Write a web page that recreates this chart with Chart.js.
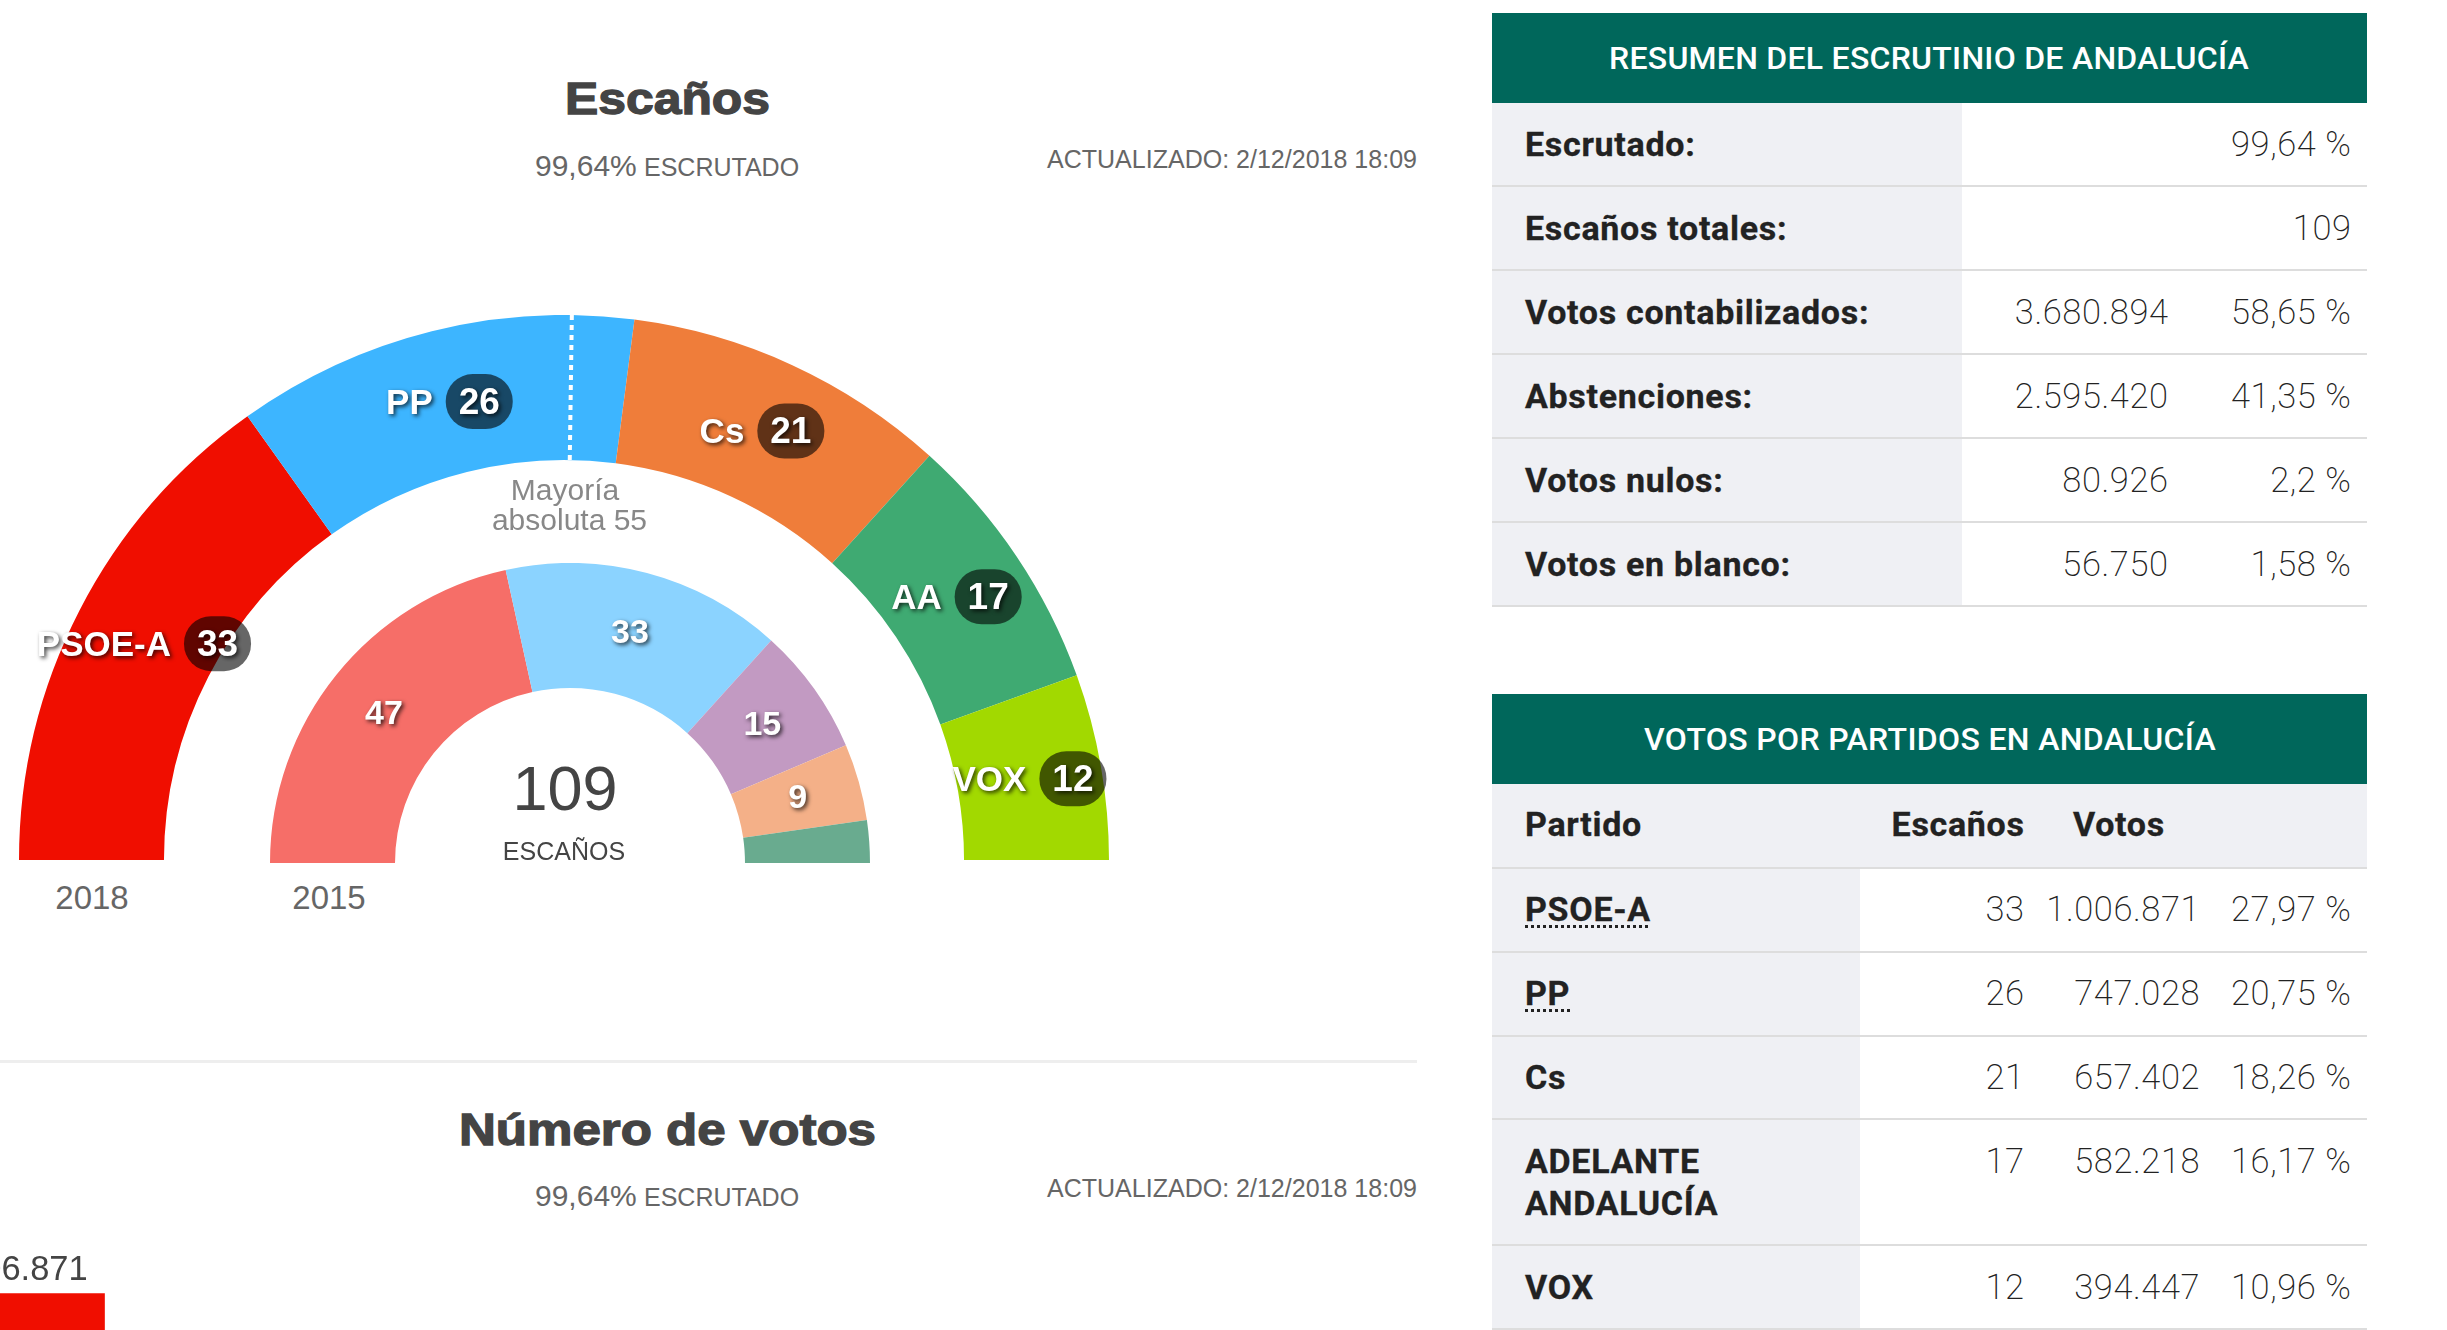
<!DOCTYPE html>
<html lang="es"><head><meta charset="utf-8">
<style>
html,body{margin:0;padding:0;background:#fff;width:2447px;height:1330px;overflow:hidden}
canvas{position:absolute;display:block}
.t{position:absolute;white-space:nowrap;line-height:1;margin:0}
.b{position:absolute}
</style>
<script src="https://cdn.jsdelivr.net/npm/chart.js@4"></script>
</head><body>
<canvas id="c2018" width="1090" height="545" style="left:19px;top:315px"></canvas>
<canvas id="c2015" width="600" height="300" style="left:270px;top:563px"></canvas>
<canvas id="cVotes" width="1000" height="350" style="left:-87px;top:1250px"></canvas>
<script>
const partyShort = ['PSOE-A','PP','Cs','AA','VOX'];
const seats2018 = [33,26,21,17,12];
const seats2015 = [47,33,15,9,5];
const colors2018 = ['#F00E00','#3DB5FF','#EF7D3A','#3FAA72','#A2D900'];
const colors2015 = ['#F66E68','#8BD3FF','#C29AC2','#F4B088','#69AB8F'];
const majority = 55;
const votes = [1006871,747028,657402,582218,394447];
const voteLabels = ['1.006.871','747.028','657.402','582.218','394.447'];
const summaryNames = ['Escrutado:','Escaños totales:','Votos contabilizados:','Abstenciones:','Votos nulos:','Votos en blanco:'];
const summaryCounts = ['','','3.680.894','2.595.420','80.926','56.750'];
const summaryPcts = ['99,64 %','109','58,65 %','41,35 %','2,2 %','1,58 %'];
const partyNames = ['PSOE-A','PP','Cs','ADELANTE|ANDALUCÍA','VOX'];
const partySeats = ['33','26','21','17','12'];
const partyVotes = ['1.006.871','747.028','657.402','582.218','394.447'];
const partyPcts = ['27,97 %','20,75 %','18,26 %','16,17 %','10,96 %'];

Chart.defaults.animation = false;
const SANS = '"Liberation Sans",Arial,sans-serif';

function shadowOn(ctx){ctx.shadowColor='rgba(0,0,0,.75)';ctx.shadowBlur=4;ctx.shadowOffsetX=2;ctx.shadowOffsetY=2;}

const seatLabels = {
  id:'seatLabels',
  afterDatasetsDraw(chart,args,opts){
    const ctx = chart.ctx, meta = chart.getDatasetMeta(0);
    meta.data.forEach((arc,i)=>{
      const p = arc.getCenterPoint();
      const val = String(chart.data.datasets[0].data[i]);
      ctx.save();
      if(opts.withNames){
        const gap=13, bw=67, bh=55, fs=35, fn=37;
        ctx.font='bold '+fs+'px '+SANS;
        const name=chart.data.labels[i], tw=ctx.measureText(name).width;
        const left=p.x-(tw+gap+bw)/2, bx=left+tw+gap;
        ctx.fillStyle='rgba(0,0,0,.6)';
        ctx.beginPath();ctx.roundRect(bx,p.y-bh/2,bw,bh,27);ctx.fill();
        shadowOn(ctx);
        ctx.fillStyle='#fff';ctx.textAlign='left';ctx.textBaseline='alphabetic';
        ctx.fillText(name,left,p.y+12.5);
        ctx.font='bold '+fn+'px '+SANS;ctx.textAlign='center';
        ctx.fillText(val,bx+bw/2,p.y+12.5);
      } else if(+val>=opts.minValue){
        ctx.font='bold 34px '+SANS;
        shadowOn(ctx);
        ctx.fillStyle='#fff';ctx.textAlign='center';ctx.textBaseline='alphabetic';
        ctx.fillText(val,p.x-1,p.y+9.5);
      }
      ctx.restore();
    });
  }
};
const majorityLine = {
  id:'majorityLine',
  afterDatasetsDraw(chart){
    const a = chart.getDatasetMeta(0).data[0], ctx=chart.ctx;
    const total = chart.data.datasets[0].data.reduce((s,v)=>s+v,0);
    const ang = -Math.PI + Math.PI*majority/total;
    ctx.save();
    ctx.strokeStyle='#fff';ctx.lineWidth=4;ctx.setLineDash([5,5]);
    ctx.beginPath();
    ctx.moveTo(a.x+a.outerRadius*Math.cos(ang),a.y+a.outerRadius*Math.sin(ang));
    ctx.lineTo(a.x+a.innerRadius*Math.cos(ang),a.y+a.innerRadius*Math.sin(ang));
    ctx.stroke();ctx.restore();
  }
};
function hemicycle(id,data,colors,cutout,labelOpts,extra){
  return new Chart(document.getElementById(id),{
    type:'doughnut',
    data:{labels:partyShort,datasets:[{data,backgroundColor:colors,borderWidth:0,hoverOffset:0}]},
    options:{responsive:false,rotation:-90,circumference:180,cutout,
      layout:{padding:0},
      plugins:{legend:{display:false},tooltip:{enabled:false},seatLabels:labelOpts}},
    plugins:[seatLabels].concat(extra||[])
  });
}
hemicycle('c2018',seats2018,colors2018,'73.4%',{withNames:true},[majorityLine]);
hemicycle('c2015',seats2015,colors2015,'58.33%',{withNames:false,minValue:9});

const voteValueLabels = {
  id:'voteValueLabels',
  afterDatasetsDraw(chart){
    const ctx=chart.ctx;
    chart.getDatasetMeta(0).data.forEach((bar,i)=>{
      ctx.save();ctx.font='34.5px '+SANS;ctx.fillStyle='#444';ctx.textAlign='center';
      ctx.fillText(voteLabels[i],bar.x-2,bar.y-14);ctx.restore();
    });
  }
};
new Chart(document.getElementById('cVotes'),{
  type:'bar',
  data:{labels:partyShort,datasets:[{data:votes,backgroundColor:colors2018,borderWidth:0,barThickness:183}]},
  options:{responsive:false,layout:{padding:0},
    scales:{x:{display:false},y:{display:false,min:0,max:1150000}},
    plugins:{legend:{display:false},tooltip:{enabled:false}}},
  plugins:[voteValueLabels]
});

/* page text: placed by baseline */
function put(text,x,base,o){
  o=o||{};
  const d=document.createElement('div');d.className='t';
  d.textContent=text;
  d.style.font=(o.weight||400)+' '+o.size+'px '+(o.family||SANS);
  d.style.color=o.color||'#444';
  if(o.ls!=null)d.style.letterSpacing=o.ls+'px';
  if(o.stroke)d.style.webkitTextStroke=o.stroke+'px '+(o.color||'#444');
  if(o.deco)d.style.cssText+=';text-decoration:underline dotted '+o.deco+';text-decoration-thickness:3px;text-underline-offset:4px';
  const s=document.createElement('span');s.style.cssText='display:inline-block;width:0;height:0';d.appendChild(s);
  d.style.left='0';d.style.top='0';document.body.appendChild(d);
  if(o.w){const w0=d.getBoundingClientRect().width;d.style.letterSpacing=((o.w-w0)/text.length)+'px';}
  let r=d.getBoundingClientRect();
  const off=s.getBoundingClientRect().bottom-r.top;
  let width=r.width;
  if(o.sw){d.style.transformOrigin='left center';d.style.transform='scaleX('+(o.sw/r.width)+')';width=o.sw;}
  const trail=o.align==='right'&&o.ls?o.ls:0;
  const lx=o.align==='right'?x-width+trail:o.align==='center'?x-width/2:x;
  d.style.left=lx+'px';d.style.top=(base-off)+'px';
  return d;
}
function rect(x,y,w,h,c){const d=document.createElement('div');d.className='b';d.style.cssText+=`left:${x}px;top:${y}px;width:${w}px;height:${h}px;background:${c}`;document.body.appendChild(d);}

/* left column text */
put('Escaños',667.5,114,{size:45,weight:700,stroke:1.3,sw:205,align:'center',color:'#444'});
put('99,64%',535,175.5,{size:30,color:'#666'});
put('ESCRUTADO',644,175.5,{size:25,color:'#666'});
put('ACTUALIZADO: 2/12/2018 18:09',1417,168,{size:25,color:'#666',align:'right',w:370});
put('Mayoría',565,500,{size:30,color:'#888',align:'center'});
put('absoluta 55',569.5,530,{size:30,color:'#888',align:'center'});
put('109',565,810,{size:63,color:'#444',align:'center'});
put('ESCAÑOS',564,860,{size:25,color:'#444',align:'center'});
put('2018',92,909,{size:33,color:'#666',align:'center'});
put('2015',329,909,{size:33,color:'#666',align:'center'});
rect(0,1060,1417,3,'#eeeeee');
put('Número de votos',667,1145,{size:45,weight:700,stroke:1.3,sw:417,align:'center',color:'#444'});
put('99,64%',535,1205.5,{size:30,color:'#666'});
put('ESCRUTADO',644,1205.5,{size:25,color:'#666'});
put('ACTUALIZADO: 2/12/2018 18:09',1417,1197,{size:25,color:'#666',align:'right',w:370});

/* tables */
const TF='Roboto,sans-serif', BG='#EFF0F4', LINE='#DDDDDD', HEAD='#00675B', INK='#222', NUM='#222';
const bold={size:34,weight:700,family:TF,color:INK,ls:.7,stroke:.3}, thin={size:34.5,weight:200,family:TF,color:NUM,align:'right',ls:.6};
rect(1492,13,875,90,HEAD);
put('RESUMEN DEL ESCRUTINIO DE ANDALUCÍA',1929,68.5,{size:32,weight:500,family:TF,color:'#fff',align:'center',w:640});
rect(1492,103,470,503,BG);
summaryNames.forEach((n,i)=>{
  const base=156+84*i;
  put(n,1525,base,bold);
  if(summaryCounts[i])put(summaryCounts[i],2168,base,thin);
  put(summaryPcts[i],2351,base,thin);
  rect(1492,185+84*i,875,2,LINE);
});
rect(1492,694,875,90,HEAD);
put('VOTOS POR PARTIDOS EN ANDALUCÍA',1930,749.5,{size:32,weight:500,family:TF,color:'#fff',align:'center',w:572});
rect(1492,784,875,84,BG);
rect(1492,868,368,462,BG);
put('Partido',1525,835.5,bold);
put('Escaños',2024,835.5,Object.assign({},bold,{align:'right'}));
put('Votos',2073,835.5,bold);
const lineTops=[867,951,1035,1118,1244,1328];
lineTops.forEach(y=>rect(1492,y,875,2,LINE));
const partyBase=[921,1005,1089,1172.5,1298.5];
partyNames.forEach((n,i)=>{
  const base=partyBase[i], parts=n.split('|');
  parts.forEach((p,k)=>put(p,1525,base+k*42.5,i<2?Object.assign({},bold,{deco:'#222'}):bold));
  put(partySeats[i],2024,base,thin);
  put(partyVotes[i],2199.5,base,thin);
  put(partyPcts[i],2351,base,thin);
});
</script>
</body></html>
